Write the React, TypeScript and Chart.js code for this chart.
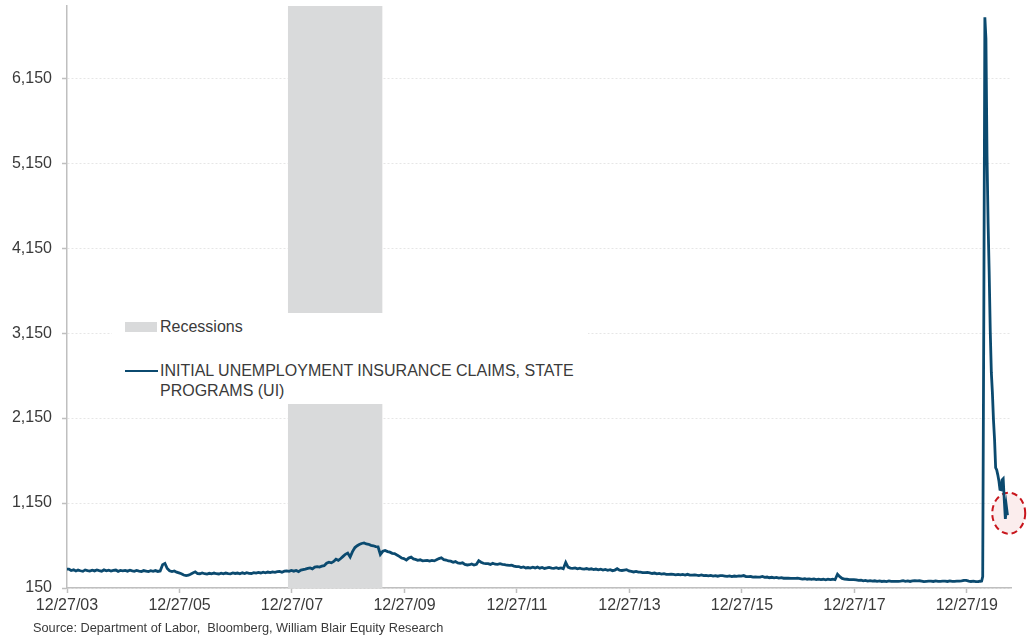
import React, { useEffect, useRef } from "react";
import { Chart, registerables } from "chart.js";

Chart.register(...registerables);

// ---------- DATA ----------
const startDate = "2003-12-27";
const startValue = 372;

// semi-monthly readings (two per month, Jan..Dec), thousands of claims
const claims2004 = [372, 356, 364, 350, 361, 353, 346, 363, 355, 349, 360, 351, 362, 354, 348, 363, 352, 359, 349, 357, 361, 346, 356, 351];
const claims2005 = [357, 348, 359, 351, 346, 356, 349, 344, 355, 349, 343, 353, 347, 355, 345, 351, 425, 440, 380, 352, 344, 351, 336, 328];
const claims2006 = [318, 303, 296, 301, 312, 326, 340, 320, 318, 327, 318, 314, 323, 316, 326, 318, 315, 324, 316, 326, 319, 317, 327, 321];
const claims2007 = [326, 318, 329, 321, 331, 323, 321, 331, 325, 334, 327, 336, 329, 338, 331, 339, 334, 342, 346, 336, 348, 351, 346, 357];
const claims2008 = [348, 357, 343, 360, 366, 372, 381, 387, 376, 396, 402, 396, 407, 412, 442, 454, 446, 462, 488, 476, 497, 522, 547, 562];
const claims2009 = [515, 578, 626, 648, 662, 674, 680, 668, 664, 652, 647, 638, 634, 545, 582, 592, 578, 572, 558, 556, 538, 522, 503, 496];
const claims2010 = [478, 502, 513, 493, 487, 476, 482, 470, 472, 474, 466, 474, 469, 482, 496, 506, 484, 479, 468, 466, 453, 461, 446, 441];
const claims2011 = [447, 428, 421, 424, 432, 420, 430, 472, 454, 441, 436, 437, 428, 442, 430, 429, 436, 428, 426, 418, 416, 419, 408, 401];
const claims2012 = [402, 390, 397, 386, 391, 384, 394, 386, 396, 383, 392, 380, 386, 393, 384, 381, 389, 380, 386, 376, 450, 396, 384, 381];
const claims2013 = [386, 376, 383, 374, 373, 379, 369, 376, 366, 373, 364, 371, 361, 369, 359, 366, 354, 361, 377, 360, 356, 361, 366, 351];
const claims2014 = [346, 339, 346, 337, 336, 331, 331, 334, 329, 321, 326, 317, 321, 314, 319, 311, 311, 314, 309, 304, 311, 304, 309, 302];
const claims2015 = [311, 302, 301, 305, 301, 297, 303, 295, 299, 293, 299, 291, 296, 289, 295, 295, 291, 287, 293, 284, 291, 287, 293, 289];
const claims2016 = [296, 284, 283, 285, 279, 281, 277, 279, 286, 275, 279, 271, 276, 269, 275, 267, 271, 265, 265, 267, 263, 264, 263, 265];
const claims2017 = [261, 255, 259, 253, 257, 251, 256, 249, 254, 249, 253, 247, 255, 249, 253, 247, 312, 284, 263, 255, 253, 249, 249, 249];
const claims2018 = [246, 239, 243, 235, 239, 231, 237, 231, 235, 229, 233, 227, 231, 225, 233, 227, 227, 229, 229, 231, 236, 229, 233, 227];
const claims2019 = [235, 237, 233, 235, 231, 225, 229, 231, 231, 227, 233, 229, 229, 231, 231, 227, 233, 229, 229, 231, 231, 233, 239, 240];
const claims2020Early = [232, 227, 231, 225];

const yearSeries: [number, number[]][] = [
  [2004, claims2004], [2005, claims2005], [2006, claims2006], [2007, claims2007],
  [2008, claims2008], [2009, claims2009], [2010, claims2010], [2011, claims2011],
  [2012, claims2012], [2013, claims2013], [2014, claims2014], [2015, claims2015],
  [2016, claims2016], [2017, claims2017], [2018, claims2018], [2019, claims2019],
  [2020, claims2020Early],
];

// weekly readings through the 2020 spike (dates as placed on the chart)
const covidWeeks = [
  "2020-03-11", "2020-03-18", "2020-03-25", "2020-04-01", "2020-04-08", "2020-04-15",
  "2020-04-22", "2020-04-29", "2020-05-06", "2020-05-13", "2020-05-20", "2020-05-27",
  "2020-06-03", "2020-06-10", "2020-06-17", "2020-06-24", "2020-07-01", "2020-07-08",
  "2020-07-15", "2020-07-22", "2020-07-29", "2020-08-05", "2020-08-12", "2020-08-19",
  "2020-08-26", "2020-09-02", "2020-09-09", "2020-09-16",
];
const covidClaims = [
  226, 230, 228, 232, 285, 3307,
  6867, 6615, 5237, 4442, 3867, 3176,
  2687, 2446, 2126, 1897, 1566, 1540,
  1482, 1413, 1310, 1307, 1422, 1435,
  1191, 963, 1106, 1006,
];

const recessionStart = "2007-12-01";
const recessionEnd = "2009-08-05";

const xMinDate = "2003-12-27";
const xMaxDate = "2020-10-12";
const xTickDates = ["2003-12-27", "2005-12-27", "2007-12-27", "2009-12-27", "2011-12-27", "2013-12-27", "2015-12-27", "2017-12-27", "2019-12-27"];
const xTickLabels = ["12/27/03", "12/27/05", "12/27/07", "12/27/09", "12/27/11", "12/27/13", "12/27/15", "12/27/17", "12/27/19"];

const yMin = 150;
const yMax = 7000;
const yTickValues = [150, 1150, 2150, 3150, 4150, 5150, 6150];

const highlightDate = "2020-09-24";
const highlightValue = 1030;

const legendRecession = "Recessions";
const legendSeries = "INITIAL UNEMPLOYMENT INSURANCE CLAIMS, STATE PROGRAMS (UI)";
const sourceText = "Source: Department of Labor,  Bloomberg, William Blair Equity Research";

// ---------- STYLE ----------
const FONT = "'Liberation Sans', Arial, Helvetica, sans-serif";
const lineColor = "#0b4a6f";
const bandColor = "#d9dadb";
const axisColor = "#bfbfbf";
const textColor = "#3a3a3a";

const toMs = (s: string) => Date.parse(s + "T00:00:00Z");

function buildPoints() {
  const pts: { x: number; y: number }[] = [{ x: toMs(startDate), y: startValue }];
  yearSeries.forEach(([yr, vals]) => {
    vals.forEach((v, i) => {
      const month = Math.floor(i / 2);
      const day = i % 2 === 0 ? 8 : 23;
      pts.push({ x: Date.UTC(yr, month, day), y: v });
    });
  });
  covidWeeks.forEach((d, i) => pts.push({ x: toMs(d), y: covidClaims[i] }));
  return pts;
}

const overlayPlugin = {
  id: "overlays",
  beforeDatasetsDraw(chart: any) {
    const { ctx, chartArea, scales } = chart;
    const x1 = scales.x.getPixelForValue(toMs(recessionStart));
    const x2 = scales.x.getPixelForValue(toMs(recessionEnd));
    ctx.save();
    ctx.fillStyle = bandColor;
    ctx.fillRect(x1, chartArea.top, x2 - x1, chartArea.bottom - chartArea.top);
    // highlight ellipse
    const cx = scales.x.getPixelForValue(toMs(highlightDate));
    const cy = scales.y.getPixelForValue(highlightValue);
    ctx.beginPath();
    ctx.ellipse(cx, cy, 16.5, 20.5, 0, 0, Math.PI * 2);
    ctx.fillStyle = "#fbeded";
    ctx.fill();
    ctx.setLineDash([6, 4]);
    ctx.lineWidth = 2;
    ctx.strokeStyle = "#c8161d";
    ctx.stroke();
    ctx.restore();
  },
};

export default function App() {
  const canvasRef = useRef<HTMLCanvasElement | null>(null);

  useEffect(() => {
    if (!canvasRef.current) return;
    Chart.defaults.font.family = FONT;
    const chart = new Chart(canvasRef.current, {
      type: "line",
      data: {
        datasets: [
          {
            data: buildPoints(),
            borderColor: lineColor,
            borderWidth: 2.8,
            pointRadius: 0,
            tension: 0,
            fill: false,
          },
        ],
      },
      options: {
        animation: false,
        responsive: true,
        maintainAspectRatio: false,
        events: [],
        layout: { padding: { top: 6, right: 15.5, left: 0, bottom: 0 } },
        plugins: { legend: { display: false }, tooltip: { enabled: false } },
        scales: {
          x: {
            type: "linear",
            min: toMs(xMinDate),
            max: toMs(xMaxDate),
            afterBuildTicks: (s: any) => {
              s.ticks = xTickDates.map((d) => ({ value: toMs(d) }));
            },
            afterFit: (s: any) => {
              s.height = 52;
              s.paddingLeft = 0;
              s.paddingRight = 0;
            },
            ticks: {
              autoSkip: false,
              maxRotation: 0,
              minRotation: 0,
              padding: 3,
              color: textColor,
              font: { size: 16, family: FONT },
              callback: (_v: any, i: number) => xTickLabels[i],
            },
            grid: {
              drawOnChartArea: false,
              drawTicks: true,
              tickLength: 5,
              tickColor: axisColor,
              tickWidth: 1.5,
            },
            border: { color: axisColor, width: 1.5 },
          },
          y: {
            type: "linear",
            min: yMin,
            max: yMax,
            afterBuildTicks: (s: any) => {
              s.ticks = yTickValues.map((v) => ({ value: v }));
            },
            afterFit: (s: any) => {
              s.width = 67;
              s.paddingTop = 0;
              s.paddingBottom = 0;
            },
            ticks: {
              padding: 10,
              color: textColor,
              font: { size: 16, family: FONT },
              callback: (v: any) => Number(v).toLocaleString("en-US"),
            },
            grid: {
              color: "#e6e6e6",
              lineWidth: 1,
              drawTicks: true,
              tickLength: 5,
              tickColor: axisColor,
              tickWidth: 1.5,
            },
            border: { color: axisColor, width: 1.5, dash: [2, 2] },
          },
        },
      },
      plugins: [overlayPlugin],
    } as any);
    return () => chart.destroy();
  }, []);

  const textBase: React.CSSProperties = {
    position: "absolute",
    fontFamily: FONT,
    fontSize: 16,
    color: textColor,
    whiteSpace: "nowrap",
    lineHeight: "20px",
  };

  return (
    <div style={{ position: "absolute", left: 0, top: 0, width: 1027, height: 640, background: "#fff", overflow: "hidden" }}>
      <div style={{ position: "absolute", left: 0, top: 0, width: 1027, height: 640 }}>
        <canvas ref={canvasRef} />
      </div>
      <div style={{ position: "absolute", left: 112, top: 313, width: 476, height: 91, background: "#fff" }} />
      <div style={{ position: "absolute", left: 125, top: 322, width: 32, height: 10, background: bandColor }} />
      <div style={{ ...textBase, left: 160, top: 317 }}>{legendRecession}</div>
      <div style={{ position: "absolute", left: 125, top: 370, width: 33, height: 2, background: lineColor }} />
      <div style={{ ...textBase, left: 160, top: 361, whiteSpace: "normal", width: 420 }}>{legendSeries}</div>
      <div style={{ position: "absolute", left: 33, top: 620, fontFamily: FONT, fontSize: 12.75, color: textColor, whiteSpace: "pre", lineHeight: "16px" }}>
        {sourceText}
      </div>
    </div>
  );
}
